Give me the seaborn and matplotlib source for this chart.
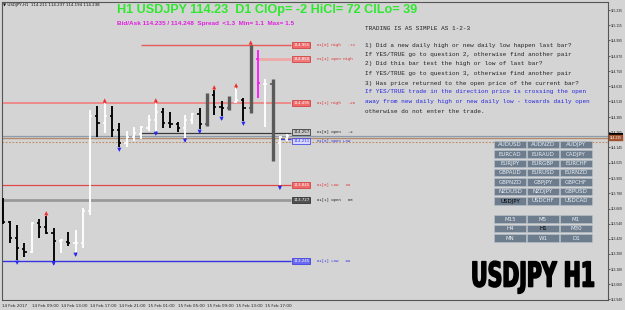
import numpy as np
import pandas as pd
import matplotlib
matplotlib.use("Agg")
import matplotlib.pyplot as plt
import seaborn as sns
from matplotlib.patches import Rectangle
from matplotlib.patheffects import AbstractPathEffect
from matplotlib.transforms import Affine2D

# ---------------- data ----------------
opens  = [113.648, 113.553, 113.426, 113.339, 113.315, 113.545, 113.513, 113.466, 113.402, 113.394,
          113.386, 113.386, 113.640, 114.394, 114.339, 114.394, 114.283, 114.180, 114.227, 114.255,
          114.299, 114.362, 114.426, 114.339, 114.331, 114.299, 114.362, 114.410, 114.331, 114.561,
          114.465, 114.458, 114.505, 114.521, 114.458, 114.850, 114.648, 114.648, 114.180, 114.211]
highs  = [113.743, 113.560, 113.529, 113.386, 113.553, 113.577, 113.601, 113.505, 113.418, 113.474,
          113.489, 113.664, 114.442, 114.473, 114.495, 114.473, 114.339, 114.275, 114.307, 114.315,
          114.402, 114.497, 114.458, 114.426, 114.346, 114.402, 114.418, 114.458, 114.577, 114.600,
          114.513, 114.553, 114.616, 114.537, 114.955, 114.918, 114.688, 114.688, 114.235, 114.248]
lows   = [113.537, 113.386, 113.252, 113.276, 113.307, 113.426, 113.458, 113.245, 113.307, 113.363,
          113.315, 113.347, 113.609, 114.227, 114.259, 114.227, 114.148, 114.148, 114.196, 114.212,
          114.275, 114.275, 114.299, 114.299, 114.267, 114.220, 114.331, 114.291, 114.315, 114.402,
          114.394, 114.442, 114.497, 114.354, 114.418, 114.537, 114.307, 114.037, 113.845, 114.194]
closes = [113.553, 113.426, 113.347, 113.315, 113.545, 113.513, 113.466, 113.402, 113.410, 113.386,
          113.386, 113.640, 114.394, 114.339, 114.394, 114.283, 114.180, 114.227, 114.259, 114.307,
          114.362, 114.426, 114.339, 114.331, 114.299, 114.362, 114.410, 114.331, 114.561, 114.465,
          114.458, 114.505, 114.521, 114.458, 114.854, 114.656, 114.648, 114.180, 114.227, 114.235]

thick_bars = [28, 31, 34, 37]
magenta_bars = [35]
up_arrow_bars = [6, 14, 21, 29, 32, 34]
down_arrow_bars = [2, 7, 10, 16, 21, 25, 27, 30, 33, 38]

date_label_bars = [0, 4, 8, 12, 16, 20, 24, 28, 32, 36]
date_labels = ["14 Feb 2017", "14 Feb 09:00", "14 Feb 13:00", "14 Feb 17:00", "14 Feb 21:00",
               "15 Feb 01:00", "15 Feb 05:00", "15 Feb 09:00", "15 Feb 13:00", "15 Feb 17:00"]
price_ticks = [115.235, 115.115, 114.995, 114.870, 114.750, 114.630, 114.510, 114.385, 114.265,
               114.145, 114.025, 113.900, 113.780, 113.660, 113.540, 113.420, 113.300, 113.180,
               113.060, 112.940]

level_names  = ["D1[0] High", "H1[4] Open High", "D1[1] High", "D1[0] Open", "H1[0] Open Low",
                "D1[0] Low", "D1[1] Open", "D1[1] Low"]
level_points = ["-72", "", "-26", "-2", "", "39", "60", "99"]
level_prices = [114.955, 114.850, 114.495, 114.257, 114.211, 113.845, 113.727, 113.245]
level_start  = [19, 35, None, 19, 38, None, None, None]

bid_price = 114.235
ask_price = 114.248

pairs = [["AUDUSD", "AUDNZD", "AUDJPY"], ["EURCAD", "EURAUD", "CADJPY"],
         ["EURJPY", "EURGBP", "EURCHF"], ["GBPAUD", "EURUSD", "EURNZD"],
         ["GBPNZD", "GBPJPY", "GBPCHF"], ["NZDUSD", "NZDJPY", "GBPUSD"],
         ["USDJPY", "USDCHF", "USDCAD"]]
timeframes = [["M15", "M5", "M1"], ["H4", "H1", "M30"], ["MN", "W1", "D1"]]

title_text = "H1 USDJPY 114.23  D1 ClOp= -2 HiCl= 72 ClLo= 39"
spread_text = "Bid/Ask 114.235 / 114.248  Spread  <1.3  Min= 1.1  Max= 1.5"
quote_text = "\u25bc USDJPY,H1  114.211 114.237 114.194 114.238"
rules_lines = ["TRADING IS AS SIMPLE AS 1-2-3",
               "1) Did a new daily high or new daily low happen last bar?",
               "If YES/TRUE go to question 2, otherwise find another pair",
               "2) Did this bar test the high or low of last bar?",
               "If YES/TRUE go to question 3, otherwise find another pair",
               "3) Has price returned to the open price of the current bar?",
               "If YES/TRUE trade in the direction price is crossing the open",
               "away from new daily high or new daily low - towards daily open",
               "otherwise do not enter the trade."]
rules_colors = ["#222222", "#222222", "#222222", "#222222", "#222222", "#222222",
                "#2828e0", "#2828e0", "#222222"]

# ---------------- figure ----------------
sns.set_style("white")
BG = "#d4d4d4"
W, H = 625, 310
fig = plt.figure(figsize=(W / 100, H / 100), dpi=100, facecolor=BG)


def fx(px):
    return px / W


def fy(py):
    return 1 - py / H


ax = fig.add_axes([fx(2), fy(300), fx(606), 298 / H])
ax.set_facecolor(BG)

df = pd.DataFrame({"bar": np.arange(len(opens)), "open": opens, "high": highs,
                   "low": lows, "close": closes})
df["up"] = df["close"] >= df["open"]

px_per_bar = 7.3
x_left = (2 - 2.5) / px_per_bar
x_right = (608 - 2.5) / px_per_bar
ax.set_xlim(x_left, x_right)
y_top = 115.235 + 8 / 126.06
y_bot = 115.235 - 290 / 126.06
ax.set_ylim(y_bot, y_top)

label_x = (291 - 2.5) / px_per_bar
line_end = label_x

lvl_style = {
    "D1[0] High": dict(color="#e85a5a", lw=1.0),
    "H1[4] Open High": dict(color="#f0a8a8", lw=2.0),
    "D1[1] High": dict(color="#ee8a8a", lw=1.4),
    "D1[0] Open": dict(color="#3a3a3a", lw=0.9),
    "H1[0] Open Low": dict(color="#3c3cf0", lw=0.9),
    "D1[0] Low": dict(color="#e04848", lw=0.9),
    "D1[1] Open": dict(color="#9a9a9a", lw=2.0),
    "D1[1] Low": dict(color="#3434e0", lw=1.0),
}
box_style = {
    "D1[0] High": ("#f06a6a", "#d03030", "white", "#e03030"),
    "H1[4] Open High": ("#f07a7a", "#d03030", "white", "#e03030"),
    "D1[1] High": ("#f06a6a", "#d03030", "white", "#e03030"),
    "D1[0] Open": ("#c8c8c8", "#202020", "#202020", "#202020"),
    "H1[0] Open Low": ("#d8d8ff", "#3030e0", "#3030e0", "#3030e0"),
    "D1[0] Low": ("#f06a6a", "#d03030", "white", "#e03030"),
    "D1[1] Open": ("#505050", "#202020", "white", "#202020"),
    "D1[1] Low": ("#6a6af0", "#3030e0", "white", "#3030e0"),
}

ax.axhline(bid_price, color="#8a9cb0", lw=0.9, zorder=1)
ax.axhline(bid_price - 0.018, color="#b48a6a", lw=1.0, zorder=1)
ax.axhline(bid_price - 0.045, color="#c08a60", lw=0.8, ls=(0, (1.5, 1.5)), zorder=1)

label_offsets = {"D1[0] Open": 0.012, "H1[0] Open Low": -0.012}
for name, pts, price, start in zip(level_names, level_points, level_prices, level_start):
    st = lvl_style[name]
    xs = x_left if start is None else start
    ax.plot([xs, line_end], [price, price], color=st["color"], lw=st["lw"], zorder=2,
            solid_capstyle="butt")
    fill, edge, tcol, lcol = box_style[name]
    ty = price + label_offsets.get(name, 0)
    ax.text(label_x + 1.4, ty, f"{price:.3f}", fontsize=2.9, color=tcol, ha="center",
            va="center", family="DejaVu Sans", zorder=6,
            bbox=dict(boxstyle="square,pad=0.25", fc=fill, ec=edge, lw=0.5))
    ax.text(label_x + 3.6, ty, f"{name}   {pts}", fontsize=2.9, color=lcol, ha="left",
            va="center", family="Liberation Mono", zorder=6)

tick = 0.3
for _, r in df.iterrows():
    i = int(r.bar)
    if i in magenta_bars:
        col, lw = "#ff10ff", 1.3
    elif i in thick_bars:
        col, lw = "#5a5a5a", 2.4
    else:
        col, lw = ("white" if r.up else "black"), 1.35
    ax.vlines(i, r.low, r.high, color=col, lw=lw, zorder=4)
    ax.hlines(r.open, i - tick, i, color=col, lw=1.2, zorder=4)
    ax.hlines(r.close, i, i + tick, color=col, lw=1.2, zorder=4)

up_df = df.loc[df.bar.isin(up_arrow_bars)].copy()
up_df["y"] = up_df["high"] + 0.022
dn_df = df.loc[df.bar.isin(down_arrow_bars)].copy()
dn_df["y"] = dn_df["low"] - 0.022
sns.scatterplot(data=up_df, x="bar", y="y", marker="^", s=9, color="#f03030",
                edgecolor="none", ax=ax, zorder=5)
sns.scatterplot(data=dn_df, x="bar", y="y", marker="v", s=9, color="#2a2af0",
                edgecolor="none", ax=ax, zorder=5)
ax.vlines(up_df["bar"], up_df["high"], up_df["y"], color="#f03030", lw=0.6, zorder=5)
ax.vlines(dn_df["bar"], dn_df["y"], dn_df["low"], color="#2a2af0", lw=0.6, zorder=5)

ax.set_xlabel("")
ax.set_ylabel("")
ax.yaxis.tick_right()
ax.set_yticks(price_ticks)
ax.set_yticklabels([f"{p:.3f}" for p in price_ticks], fontsize=2.4, color="#222222",
                   family="Liberation Sans")
ax.set_xticks(date_label_bars)
ax.set_xticklabels(date_labels, fontsize=3.0, color="#222222", ha="left")
ax.tick_params(axis="y", length=1.5, width=0.5, pad=0.8, color="#333333")
ax.tick_params(axis="x", length=2, width=0.5, pad=1.2, color="#333333")
for s in ax.spines.values():
    s.set_color("#555555")
    s.set_linewidth(0.8)

fig.patches.append(Rectangle((fx(609), fy(134.5)), fx(14), 2 / H, transform=fig.transFigure,
                             fc="black", ec="none"))
fig.text(fx(610), fy(137.5), f"{bid_price:.3f}", fontsize=2.4, color="white", va="center",
         ha="left", family="Liberation Sans",
         bbox=dict(boxstyle="square,pad=0.3", fc="#a0522d", ec="#a0522d", lw=0.3))

fig.text(fx(117), fy(10.5), title_text, fontsize=9.05, fontweight="bold", color="#2ee82e",
         family="Liberation Sans", va="center", ha="left")
fig.text(fx(117), fy(24), spread_text, fontsize=4.6, fontweight="bold", color="#e020e0",
         family="Liberation Sans", va="center", ha="left")
fig.text(fx(3), fy(5), quote_text, fontsize=2.9, color="#111111", va="center", ha="left",
         family="DejaVu Sans")

rule_y = [28, 45, 54.5, 64, 73.5, 83, 92, 101.5, 111]
for txt, yy, c in zip(rules_lines, rule_y, rules_colors):
    fig.text(fx(365), fy(yy), txt, fontsize=4.3, color=c, family="Liberation Mono",
             va="center", ha="left")

BTN = "#6d7d8e"


def button(x0, y0, label, selected):
    fig.patches.append(Rectangle((fx(x0), fy(y0 + 7.4)), fx(32), 7.4 / H,
                                 transform=fig.transFigure, fc=BTN, ec="#b8c2cc", lw=0.4))
    fig.text(fx(x0 + 16), fy(y0 + 3.9), label, fontsize=4.0,
             color=("#000000" if selected else "#e8ecf0"), ha="center", va="center",
             family="DejaVu Sans")


for r, row in enumerate(pairs):
    for c, lab in enumerate(row):
        button(494 + 33 * c, 141 + 9.35 * r, lab, lab == "USDJPY")
for r, row in enumerate(timeframes):
    for c, lab in enumerate(row):
        button(494 + 33 * c, 215.5 + 9.35 * r, lab, lab == "H1")


class Squeeze(AbstractPathEffect):
    """Draw text glyphs compressed horizontally around an anchor (narrow, heavy face)."""

    def __init__(self, sx, anchor_px, stroke=1.0):
        super().__init__()
        self.sx = sx
        self.anchor = anchor_px
        self.stroke = stroke

    def draw_path(self, renderer, gc, tpath, affine, rgbFace=None):
        sq = Affine2D().translate(-self.anchor, 0).scale(self.sx, 1).translate(self.anchor, 0)
        gc0 = renderer.new_gc()
        gc0.copy_properties(gc)
        gc0.set_linewidth(self.stroke)
        gc0.set_foreground(rgbFace if rgbFace is not None else "black")
        renderer.draw_path(gc0, tpath, affine + sq, rgbFace)
        gc0.restore()


fig.text(fx(595), fy(277), "USDJPY H1", fontsize=24.5, fontweight="bold", color="black",
         family="DejaVu Sans", ha="right", va="center",
         path_effects=[Squeeze(0.6, 595 * fig.dpi / 100, stroke=1.2)])

fig.savefig("out.png", dpi=100, facecolor=BG)
